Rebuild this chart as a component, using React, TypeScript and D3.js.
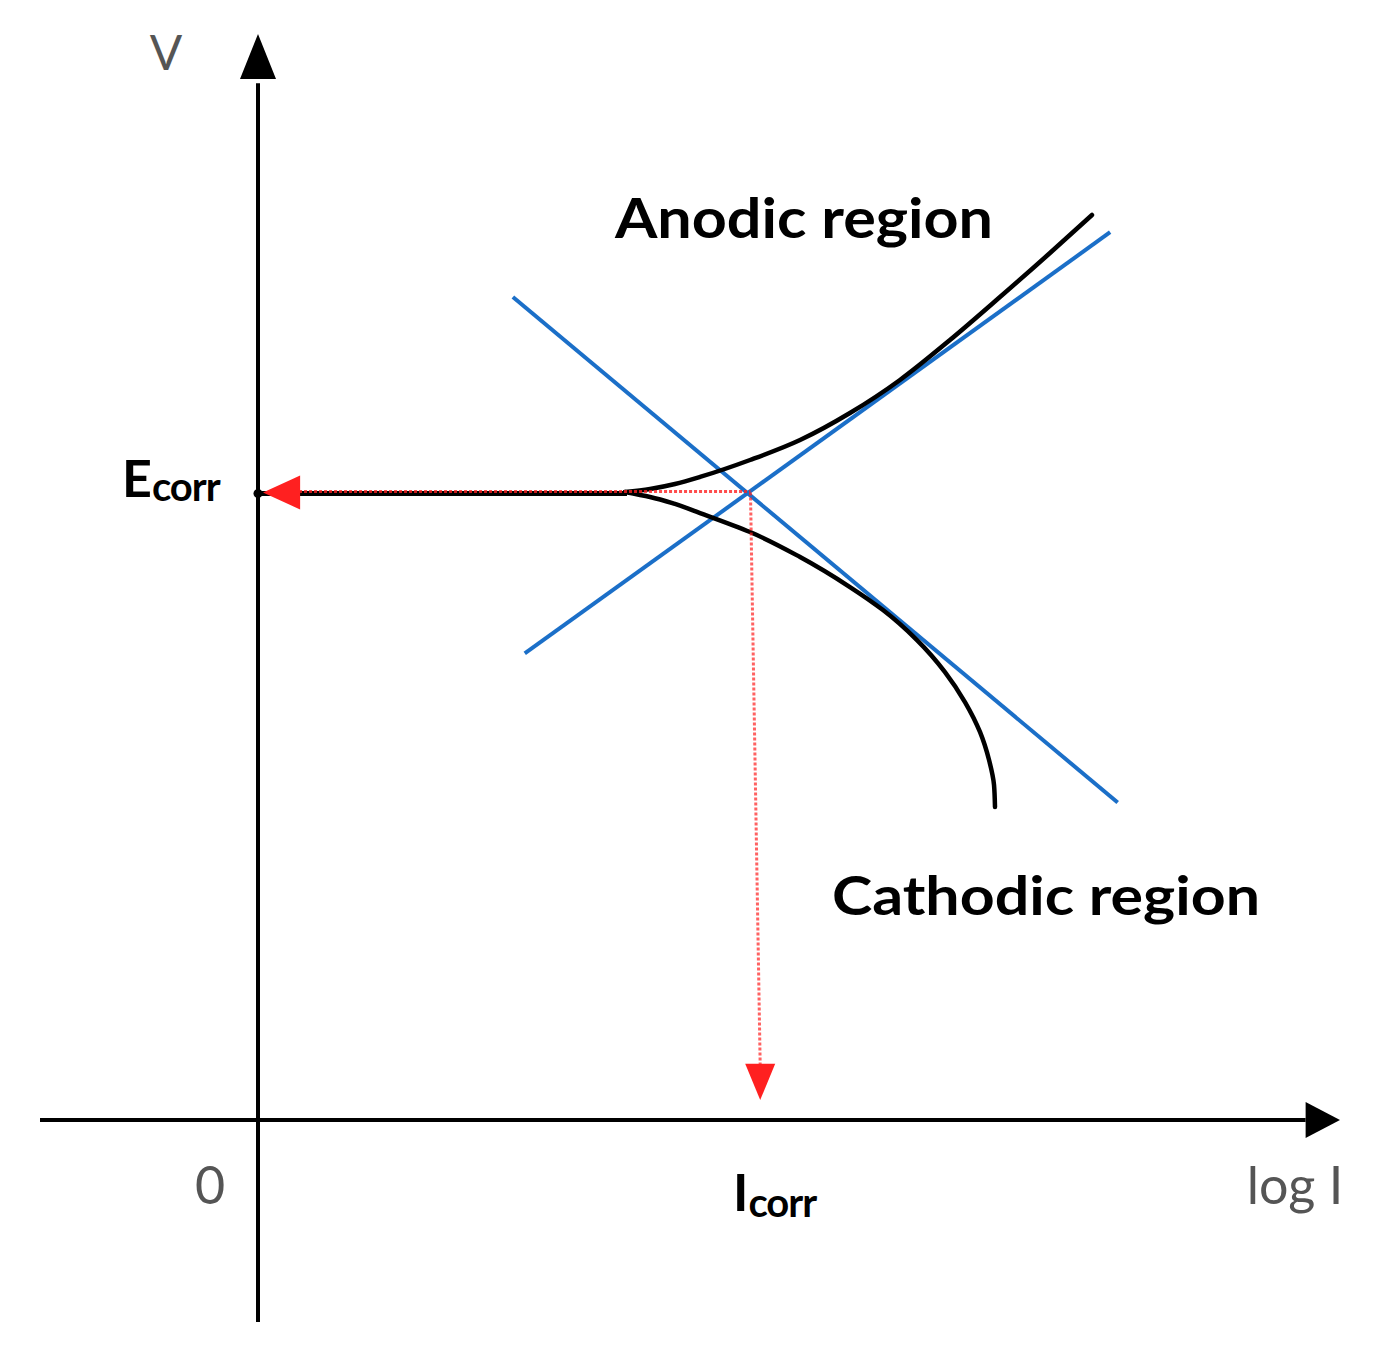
import React from 'react'
import * as d3 from 'd3'

// polarisation sketch, values in arbitrary units (0-100 on both axes)
const ecorr = 58.1
const icorrTop = 45.6
const icorrBottom = 46.5

const anodicTafel = [
  { x: 24.7, y: 43.2 },
  { x: 78.9, y: 82.2 },
]
const cathodicTafel = [
  { x: 23.6, y: 76.2 },
  { x: 79.6, y: 29.4 },
]

const anodicX = [33.98, 36.3, 38.61, 40.93, 45.56, 50.19, 54.81, 59.44, 64.07, 68.7, 73.33, 77.22]
const anodicV = [58.15, 58.43, 58.89, 59.54, 61.11, 62.96, 65.46, 68.52, 72.22, 76.2, 80.28, 83.8]

const cathodicX = [33.98, 36.3, 38.61, 40.93, 45.56, 50.19, 54.81, 57.87, 61.02, 63.61, 65.46, 66.85, 67.69, 68.15, 68.24]
const cathodicV = [58.15, 57.69, 57.04, 56.2, 54.44, 52.13, 49.35, 47.22, 44.44, 41.48, 38.7, 35.93, 33.33, 31.02, 28.98]

const W = 1388
const H = 1360
const FONT = 'Lato, "Open Sans", sans-serif'

export default function App() {
  const x = d3.scaleLinear().domain([0, 100]).range([258, 1338])
  const y = d3.scaleLinear().domain([0, 100]).range([1120, 40])

  const line = d3.line<{ x: number; y: number }>()
    .x(d => x(d.x))
    .y(d => y(d.y))
  const curveA = d3.line<{ x: number; y: number }>()
    .x(d => x(d.x))
    .y(d => y(d.y))
    .curve(d3.curveMonotoneX)
  const curveC = d3.line<{ x: number; y: number }>()
    .x(d => x(d.x))
    .y(d => y(d.y))
    .curve(d3.curveMonotoneY)

  const anodic = anodicX.map((v, i) => ({ x: v, y: anodicV[i] }))
  const cathodic = cathodicX.map((v, i) => ({ x: v, y: cathodicV[i] }))

  const x0 = x(0)
  const y0 = y(0)
  const yE = y(ecorr)
  const blue = '#1b6fc8'
  const red = '#ff2020'
  const grey = '#555'

  return (
    <svg width={W} height={H} style={{ position: 'absolute', left: 0, top: 0, background: '#fff' }}>
      {/* axes */}
      <line x1={x0} x2={x0} y1={1322} y2={y(96)} stroke="#000" strokeWidth={4} />
      <path d={`M${x0},${y(100) - 6} L${x0 - 18},${y(96.4)} L${x0 + 18},${y(96.4)} Z`} fill="#000" />
      <line x1={40} x2={x(97)} y1={y0} y2={y0} stroke="#000" strokeWidth={4} />
      <path d={`M${x(100) + 2},${y0} L${x(97)},${y0 - 18} L${x(97)},${y0 + 18} Z`} fill="#000" />

      {/* tafel lines */}
      <path d={line(anodicTafel) || ''} fill="none" stroke={blue} strokeWidth={4} />
      <path d={line(cathodicTafel) || ''} fill="none" stroke={blue} strokeWidth={4} />

      {/* measured curve */}
      <line x1={x0} x2={x(anodicX[0]) + 2} y1={yE + 1} y2={yE + 1} stroke="#000" strokeWidth={5} />
      <circle cx={x0} cy={yE + 1} r={4.5} fill="#000" />
      <path d={curveA(anodic) || ''} fill="none" stroke="#000" strokeWidth={4.5} strokeLinecap="round" />
      <path d={curveC(cathodic) || ''} fill="none" stroke="#000" strokeWidth={4.5} strokeLinecap="round" />

      {/* Ecorr / Icorr guides */}
      <line x1={x(3.8)} x2={x(icorrTop)} y1={yE - 1} y2={yE - 1} stroke={red} strokeWidth={3} strokeDasharray="3,2" opacity={0.8} />
      <path d={`M${x0 + 5},${yE} L${x(3.9)},${yE - 17} L${x(3.9)},${yE + 17} Z`} fill={red} />
      <line x1={x(icorrTop)} x2={x(icorrBottom)} y1={yE} y2={y(5)} stroke={red} strokeWidth={3} strokeDasharray="3,2" opacity={0.7} />
      <path d={`M${x(icorrBottom)},${y(1.85)} L${x(icorrBottom) - 15},${y(5.2)} L${x(icorrBottom) + 15},${y(5.2)} Z`} fill={red} />

      {/* labels */}
      <g fontFamily={FONT} fill="#000" fontWeight={700}>
        <text x={615} y={238} fontSize={55} textLength={378} lengthAdjust="spacingAndGlyphs">Anodic region</text>
        <text x={832} y={915} fontSize={53} textLength={428} lengthAdjust="spacingAndGlyphs">Cathodic region</text>
        <text x={122} y={497} fontSize={52}>E<tspan fontSize={40} dy={4} letterSpacing={-1}>corr</tspan></text>
        <text x={733} y={1211} fontSize={52}>I<tspan fontSize={40} dy={6} letterSpacing={-1}>corr</tspan></text>
      </g>
      <g fontFamily={FONT} fill={grey}>
        <text x={166} y={70} fontSize={48} textAnchor="middle">V</text>
        <text x={210} y={1204} fontSize={52} textAnchor="middle">0</text>
        <text x={1295} y={1204} fontSize={52} textAnchor="middle">log I</text>
      </g>
    </svg>
  )
}
